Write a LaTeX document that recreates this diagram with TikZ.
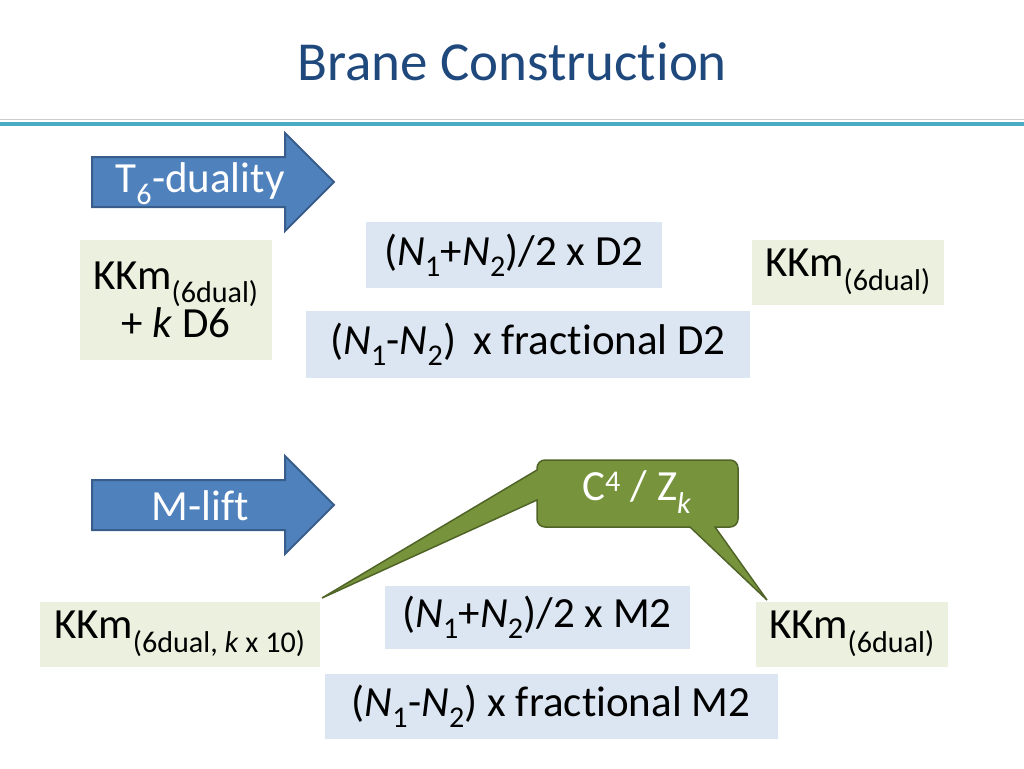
\documentclass[tikz,border=0pt]{standalone}
\usepackage{fontspec}
\setmainfont{Carlito}[Ligatures=NoCommon]
\definecolor{gfill}{RGB}{235,241,222}
\definecolor{bfill}{RGB}{220,230,242}
\definecolor{titlec}{RGB}{31,73,125}
\definecolor{teal}{RGB}{75,172,198}
\definecolor{arrf}{RGB}{79,129,189}
\definecolor{arrd}{RGB}{56,93,138}
\definecolor{calf}{RGB}{119,147,60}
\definecolor{cald}{RGB}{80,100,40}
\begin{document}
\begin{tikzpicture}[x=1pt,y=-1pt,
 gbox/.style={fill=gfill,inner sep=0pt,align=center},
 bbox/.style={fill=bfill,inner sep=0pt,align=center},
 txt/.style={font=\fontsize{43}{44}\selectfont},
 arr/.style={fill=arrf,draw=arrd,line width=2pt}]
\useasboundingbox (0,0) rectangle (1024,768);
\node[font=\fontsize{55}{60}\selectfont,text=titlec] (title) at (512,62) {Brane Construction};
\draw[line width=1pt,gray!40] (0,119) -- (1024,119);
\draw[line width=4pt,teal] (0,124) -- (1024,124);
% arrows
\draw[arr] (92,157) -- (285,157) -- (285,133) -- (334,182) -- (285,231) -- (285,207) -- (92,207) -- cycle;
\node[txt,text=white] (t6) at (200,184) {T\textsubscript{6}-duality};
\draw[arr] (92,480) -- (285,480) -- (285,456) -- (334,505) -- (285,554) -- (285,530) -- (92,530) -- cycle;
\node[txt,text=white] (ml) at (200,506) {M-lift};
% top boxes
\node[gbox,txt,minimum width=192pt,minimum height=120pt] (k1) at (176,300) {KKm\textsubscript{(6dual)}\\+ \textit{k} D6};
\node[bbox,txt,minimum width=296pt,minimum height=66pt] (d1) at (514,255) {(\textit{N}\textsubscript{1}+\textit{N}\textsubscript{2})/2 x D2};
\node[bbox,txt,minimum width=444pt,minimum height=67pt] (d2) at (528,344) {(\textit{N}\textsubscript{1}-\textit{N}\textsubscript{2})\, x fractional D2};
\node[gbox,txt,minimum width=192pt,minimum height=65pt] (k2) at (848,272) {KKm\textsubscript{(6dual)}};
% bottom boxes
\node[gbox,txt,minimum width=280pt,minimum height=65pt] (k3) at (180,634) {KKm\textsubscript{(6dual, \textit{k} x 10)}};
\node[bbox,txt,minimum width=305pt,minimum height=63pt] (m1) at (537,617) {(\textit{N}\textsubscript{1}+\textit{N}\textsubscript{2})/2 x M2};
\node[bbox,txt,minimum width=453pt,minimum height=65pt] (m2) at (551,706) {(\textit{N}\textsubscript{1}-\textit{N}\textsubscript{2}) x fractional M2};
\node[gbox,txt,minimum width=192pt,minimum height=65pt] (k4) at (852,634) {KKm\textsubscript{(6dual)}};
% callout
\coordinate (tipL) at (322,598);
\coordinate (tipR) at (767,600);
\filldraw[fill=calf,draw=cald,line width=1.5pt]
 (537,470) -- (537,468) arc[start angle=180,end angle=270,radius=8] -- (730,460) arc[start angle=270,end angle=360,radius=8] -- (738,519) arc[start angle=0,end angle=90,radius=8] -- (715,527) -- (tipR) -- (690,527) -- (545,527) arc[start angle=90,end angle=180,radius=8] -- (537,500) -- (tipL) -- cycle;
\node[txt,text=white] (c4) at (637,492) {C\textsuperscript{4} / Z\textsubscript{\textit{k}}};
\end{tikzpicture}
\end{document}
